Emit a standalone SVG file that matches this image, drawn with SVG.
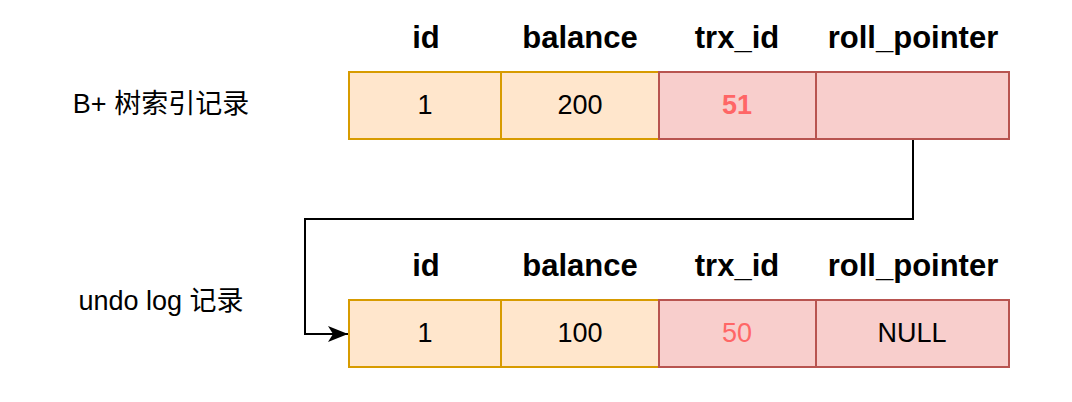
<svg xmlns="http://www.w3.org/2000/svg" width="1072" height="402" viewBox="0 0 1072 402">
<style>
.o{fill:#ffe6cc;stroke:#d79b00;stroke-width:2}
.r{fill:#f8cecc;stroke:#b85450;stroke-width:2}
.h{font-family:"Liberation Sans",Arial,sans-serif;font-weight:bold;font-size:31px;text-anchor:middle;fill:#000}
.c{font-family:"Liberation Sans",Arial,sans-serif;font-size:27px;text-anchor:middle;fill:#000}
.l{font-family:"Liberation Sans","Noto Sans CJK SC",sans-serif;font-size:27px;text-anchor:middle;fill:#000}
.red{fill:#ff6666}
</style>
<defs>
<marker id="arr" markerWidth="20" markerHeight="16" refX="20" refY="8" orient="auto" markerUnits="userSpaceOnUse" viewBox="0 0 20 16">
<path d="M0,0 L20,8 L0,16 L5,8 Z" fill="#000"/>
</marker>
</defs>
<g id="label-bplus"><text class="l" x="161" y="113">B+ 树索引记录</text></g>
<g id="label-undo"><text class="l" x="161" y="310">undo log 记录</text></g>
<g id="headers-top">
<text class="h" x="426" y="48">id</text>
<text class="h" x="580" y="48">balance</text>
<text class="h" x="737" y="48">trx_id</text>
<text class="h" x="913" y="48">roll_pointer</text>
</g>
<g id="headers-bottom">
<text class="h" x="426" y="276">id</text>
<text class="h" x="580" y="276">balance</text>
<text class="h" x="737" y="276">trx_id</text>
<text class="h" x="913" y="276">roll_pointer</text>
</g>
<g id="connectors">
<path d="M913,139 V219 H305 V334 H348" fill="none" stroke="#000" stroke-width="2" marker-end="url(#arr)"/>
</g>
<g id="top-id"><rect class="o" x="349" y="72" width="152" height="67"/><text class="c" x="425" y="114">1</text></g>
<g id="top-balance"><rect class="o" x="501" y="72" width="158" height="67"/><text class="c" x="580" y="114">200</text></g>
<g id="top-trx"><rect class="r" x="659" y="72" width="157" height="67"/><text class="c red" x="737" y="114" font-weight="bold">51</text></g>
<g id="top-roll"><rect class="r" x="816" y="72" width="193" height="67"/></g>
<g id="bot-id"><rect class="o" x="349" y="300" width="152" height="67"/><text class="c" x="425" y="342">1</text></g>
<g id="bot-balance"><rect class="o" x="501" y="300" width="158" height="67"/><text class="c" x="580" y="342">100</text></g>
<g id="bot-trx"><rect class="r" x="659" y="300" width="157" height="67"/><text class="c red" x="737" y="342">50</text></g>
<g id="bot-roll"><rect class="r" x="816" y="300" width="193" height="67"/><text class="c" x="912" y="342">NULL</text></g>
</svg>
